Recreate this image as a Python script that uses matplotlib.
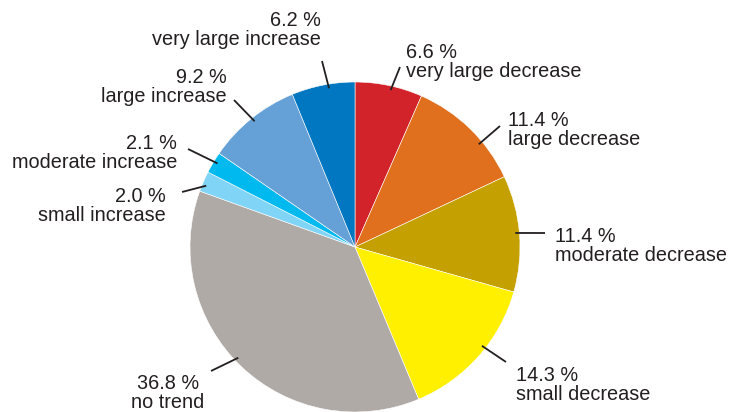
import numpy as np
import matplotlib
matplotlib.use('Agg')
import matplotlib.pyplot as plt

# Share of trend classes (clockwise from 12 o'clock)
categories = ['very large decrease', 'large decrease', 'moderate decrease',
              'small decrease', 'no trend', 'small increase',
              'moderate increase', 'large increase', 'very large increase']
shares = [6.6, 11.4, 11.4, 14.3, 36.8, 2.0, 2.1, 9.2, 6.2]
colors = ['#d2232a', '#e0701e', '#c4a100', '#fff000', '#b0aaa7',
          '#80d4f6', '#00b9ef', '#65a1d6', '#0077c0']

# Label layout in pixel units (y measured from the top)
label_xy = [(406, 58), (508, 126), (555, 242), (516, 381), (168, 389),
            (166, 202), (177, 149), (227, 83), (321, 26)]
label_ha = ['left', 'left', 'left', 'left', 'center',
            'right', 'right', 'right', 'right']
# leader lines: angle on the rim where they start, and their outer end
leader_ang = [77.2, 39.7, 5.0, -37.9, 223.5, 157.6, 148.7, 128.6, 99.3]
leader_end = [(400, 67), (500, 126), (545, 233), (506, 362), (211, 371),
              (182, 192), (188, 149), (234, 100), (322, 61)]

W, H = 730, 412
CX, CY, R = 355, 247, 165
TXT = '#231f20'

plt.rcParams['font.family'] = ['Liberation Sans', 'DejaVu Sans']

fig = plt.figure(figsize=(W / 100, H / 100), dpi=100)
ax = fig.add_axes([0, 0, 1, 1])


def py(y):
    return H - y


wedges, _ = ax.pie(shares, colors=colors, startangle=90, counterclock=False,
                   radius=R, center=(CX, py(CY)),
                   wedgeprops=dict(edgecolor='white', linewidth=0.4))

for name, val, (tx, ty), ha, a, (ex, ey) in zip(categories, shares, label_xy,
                                                 label_ha, leader_ang, leader_end):
    ang = np.deg2rad(a)
    sx = CX + 0.975 * R * np.cos(ang)
    sy = py(CY) + 0.975 * R * np.sin(ang)
    ax.plot([sx, ex], [sy, py(ey)], color=TXT, lw=1.3, solid_capstyle='butt')
    ax.text(tx, py(ty), f'{val:.1f} %', ha=ha, va='baseline',
            fontsize=14.3, color=TXT)
    ax.text(tx, py(ty + 19), name, ha=ha, va='baseline',
            fontsize=14.3, color=TXT)

ax.set_xlim(0, W)
ax.set_ylim(0, H)
ax.set_aspect('equal')
ax.axis('off')

fig.savefig('out.png', dpi=100)
